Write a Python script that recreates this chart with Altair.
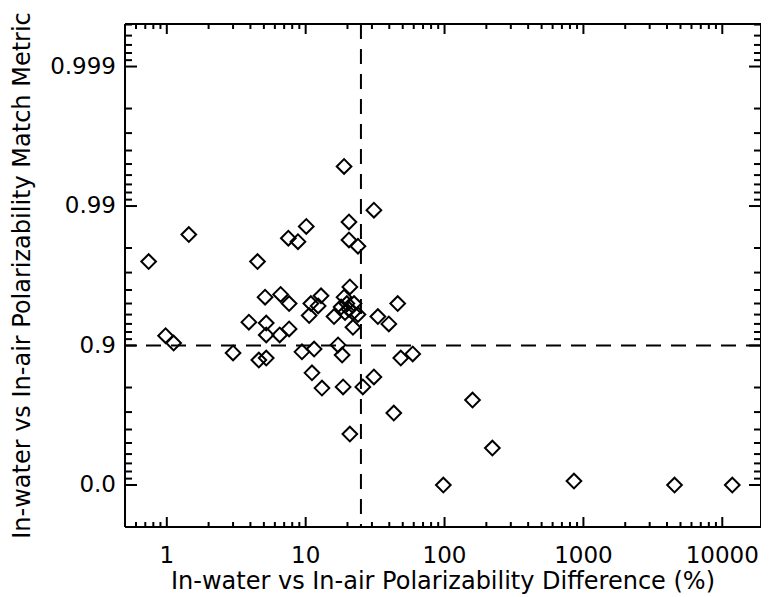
import math
import altair as alt
import pandas as pd

# ---- data ----
diff_pct = [0.74, 1.44, 0.98, 1.12, 3.0,
            3.9, 4.5, 4.6, 5.2, 5.1, 5.2, 5.2, 6.6, 7.6, 6.5, 7.6, 7.5, 8.8, 10.1, 9.4,
            10.6, 10.9, 12.3, 12.9, 11.5, 11.1, 13.1, 16.0, 17.1, 18.3, 18.6, 18.9, 20.8,
            18.9, 20.5, 20.5, 23.8, 31.0, 18.0, 20.5, 22.3, 19.2, 21.9, 23.8, 19.8, 21.9,
            20.8, 25.8, 31.0, 33.1, 39.7, 46.0, 48.4, 59.0, 43.1,
            98, 159, 221, 855, 4530, 11800]
match_metric = [0.975, 0.984, 0.915, 0.904, 0.887,
                0.932, 0.975, 0.873, 0.877, 0.955, 0.931, 0.916, 0.957, 0.950, 0.916, 0.924, 0.983, 0.982, 0.986, 0.889,
                0.939, 0.950, 0.948, 0.956, 0.894, 0.843, 0.798, 0.938, 0.901, 0.883, 0.802, 0.955, 0.962,
                0.9948, 0.987, 0.9825, 0.9806, 0.9893, 0.947, 0.945, 0.950, 0.942, 0.942, 0.940, 0.950, 0.926,
                0.569, 0.802, 0.832, 0.938, 0.930, 0.950, 0.877, 0.885, 0.695,
                0.0, 0.754, 0.457, 0.064, 0.0, 0.0]

threshold_diff = [25]
threshold_metric = [0.9]

x_major = [1, 10, 100, 1000, 10000]
x_major_labels = ["1", "10", "100", "1000", "10000"]
x_minor = [0.6, 0.7, 0.8, 0.9,
           2, 3, 4, 5, 6, 7, 8, 9,
           20, 30, 40, 50, 60, 70, 80, 90,
           200, 300, 400, 500, 600, 700, 800, 900,
           2000, 3000, 4000, 5000, 6000, 7000, 8000, 9000]
y_major_metric = [0.0, 0.9, 0.99, 0.999]
y_major_labels = ["0.0", "0.9", "0.99", "0.999"]
y_minor_metric = [0.1, 0.2, 0.3, 0.4, 0.5, 0.6, 0.7, 0.8,
                  0.91, 0.92, 0.93, 0.94, 0.95, 0.96, 0.97, 0.98,
                  0.991, 0.992, 0.993, 0.994, 0.995, 0.996, 0.997, 0.998,
                  0.9991, 0.9992, 0.9993, 0.9994, 0.9995]

X_TITLE = "In-water vs In-air Polarizability Difference (%)"
Y_TITLE = "In-water vs In-air Polarizability Match Metric"

# ---- layout ----
W, H = 636, 503
PAD_L, PAD_T = 117, 16
FONT = "DejaVu Sans"
FS_LAB = 23
FS_TIT = 24
T_EXPR = "-log(1 - datum.m) / LN10"

xs = alt.Scale(type="log", domain=[0.5, 19000], nice=False)
ys = alt.Scale(type="linear", domain=[-0.301, 3.305], nice=False, zero=False)

pts = pd.DataFrame({"diff": diff_pct, "m": match_metric})

points = alt.Chart(pts).transform_calculate(t=T_EXPR).mark_point(
    shape="diamond", filled=False, size=215, strokeWidth=2, color="black", opacity=1
).encode(
    x=alt.X("diff:Q", scale=xs, axis=None),
    y=alt.Y("t:Q", scale=ys, axis=None),
)

vline = alt.Chart(pd.DataFrame({"diff": threshold_diff})).mark_rule(
    color="black", strokeWidth=2, strokeDash=[15, 10]
).encode(x=alt.X("diff:Q", scale=xs, axis=None))

hline = alt.Chart(pd.DataFrame({"m": threshold_metric})).transform_calculate(
    t=T_EXPR
).mark_rule(color="black", strokeWidth=2, strokeDash=[15, 10]).encode(
    y=alt.Y("t:Q", scale=ys, axis=None))


# inward tick marks drawn as short line-shaped point symbols
# (a custom path from the centre to the unit-box edge is sqrt(size)/2 px long)
def tick_size(length_px):
    return (2 * length_px) ** 2


def xticks(vals, y_edge, path, length_px):
    return alt.Chart(pd.DataFrame({"v": vals})).mark_point(
        shape=path, filled=False, size=tick_size(length_px), strokeWidth=2,
        color="black", opacity=1
    ).encode(x=alt.X("v:Q", scale=xs, axis=None), y=alt.value(y_edge))


def yticks(vals, x_edge, path, length_px):
    return alt.Chart(pd.DataFrame({"m": vals})).transform_calculate(
        t=T_EXPR
    ).mark_point(
        shape=path, filled=False, size=tick_size(length_px), strokeWidth=2,
        color="black", opacity=1
    ).encode(y=alt.Y("t:Q", scale=ys, axis=None), x=alt.value(x_edge))


UP, DOWN, RIGHT, LEFT = "M0,0L0,-1", "M0,0L0,1", "M0,0L1,0", "M0,0L-1,0"
XMAJ, XMIN = 10, 5
YMAJ, YMIN = 12, 7
ticks = [
    xticks(x_major, H, UP, XMAJ), xticks(x_minor, H, UP, XMIN),
    xticks(x_major, 0, DOWN, XMAJ), xticks(x_minor, 0, DOWN, XMIN),
    yticks(y_major_metric, 0, RIGHT, YMAJ), yticks(y_minor_metric, 0, RIGHT, YMIN),
    yticks(y_major_metric, W, LEFT, YMAJ), yticks(y_minor_metric, W, LEFT, YMIN),
]

# plot frame (box) drawn as four rules
one = pd.DataFrame({"k": [0]})
frame = [
    alt.Chart(one).mark_rule(color="black", strokeWidth=2).encode(
        x=alt.value(0), x2=alt.value(W), y=alt.value(0)),
    alt.Chart(one).mark_rule(color="black", strokeWidth=2).encode(
        x=alt.value(0), x2=alt.value(W), y=alt.value(H)),
    alt.Chart(one).mark_rule(color="black", strokeWidth=2).encode(
        y=alt.value(0), y2=alt.value(H), x=alt.value(0)),
    alt.Chart(one).mark_rule(color="black", strokeWidth=2).encode(
        y=alt.value(0), y2=alt.value(H), x=alt.value(W)),
]

# tick labels and titles as text marks
x_labels = alt.Chart(pd.DataFrame({"v": x_major, "label": x_major_labels})).mark_text(
    font=FONT, fontSize=FS_LAB, color="black", align="center", baseline="top"
).encode(x=alt.X("v:Q", scale=xs, axis=None), y=alt.value(H + 18), text="label:N")

y_labels = alt.Chart(pd.DataFrame({"m": y_major_metric, "label": y_major_labels})).transform_calculate(
    t=T_EXPR
).mark_text(
    font=FONT, fontSize=FS_LAB, color="black", align="right", baseline="middle"
).encode(y=alt.Y("t:Q", scale=ys, axis=None), x=alt.value(-9), text="label:N")

x_title = alt.Chart(pd.DataFrame({"label": [X_TITLE]})).mark_text(
    font=FONT, fontSize=FS_TIT, color="black", align="center", baseline="alphabetic"
).encode(x=alt.value(W / 2), y=alt.value(H + 62), text="label:N")

y_title = alt.Chart(pd.DataFrame({"label": [Y_TITLE]})).mark_text(
    font=FONT, fontSize=FS_TIT, color="black", align="center", baseline="alphabetic",
    angle=270
).encode(x=alt.value(-(PAD_L - 22)), y=alt.value(H / 2), text="label:N")

chart = alt.layer(vline, hline, *ticks, *frame, x_labels, y_labels, x_title, y_title, points).properties(
    width=W, height=H,
    autosize=alt.AutoSizeParams(type="none"),
    padding={"left": PAD_L, "top": PAD_T, "right": 0, "bottom": 70},
).configure(background="white")

chart.save("out.html", embed_options={"renderer": "svg", "actions": False})
